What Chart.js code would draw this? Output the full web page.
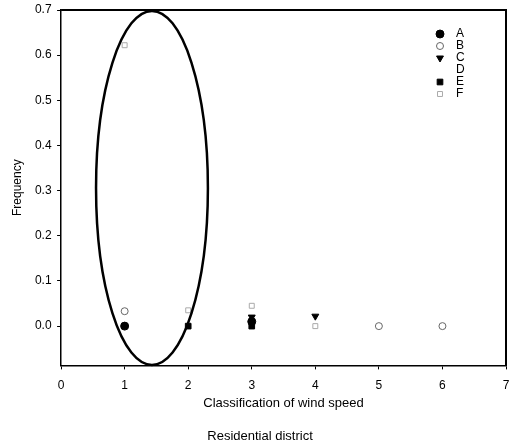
<!DOCTYPE html>
<html>
<head>
<meta charset="utf-8">
<script src="https://cdn.jsdelivr.net/npm/chart.js@4.4.0/dist/chart.umd.min.js"></script>
<style>
  html, body { margin: 0; padding: 0; background: #fff; overflow: hidden; }
  canvas { display: block; }
</style>
</head>
<body>
<canvas id="myChart" width="511" height="446"></canvas>
<script>
// data
var seriesNames = ['A', 'B', 'C', 'D', 'E', 'F'];
var xA = [1, 3];          var yA = [0.0, 0.01];
var xB = [1, 5, 6];       var yB = [0.033, 0.0, 0.0];
var xC = [3, 4];          var yC = [0.02, 0.022];
var xD = [];              var yD = [];
var xE = [2, 3];          var yE = [0.0, 0.0];
var xF = [1, 2, 3, 4];    var yF = [0.622, 0.035, 0.045, 0.0];
var yTickValues = [0, 0.1, 0.2, 0.3, 0.4, 0.5, 0.6, 0.7];
var xTickValues = [0, 1, 2, 3, 4, 5, 6, 7];

// the circled region (data units)
var ringCx = 1.43, ringCy = 0.306, ringRx = 0.88, ringRy = 0.392;

var fontName = '"Liberation Sans", Arial, sans-serif';

function pts(xs, ys) {
  var out = [];
  for (var i = 0; i < xs.length; i++) out.push({x: xs[i], y: ys[i]});
  return out;
}

var markerStyles = {
  A: {pointStyle: 'circle', radius: 4, rotation: 0, bg: '#000', border: '#000', bw: 1},
  B: {pointStyle: 'circle', radius: 3.5, rotation: 0, bg: '#fff', border: '#666', bw: 1},
  C: {pointStyle: 'triangle', radius: 4, rotation: 180, bg: '#000', border: '#000', bw: 1},
  D: {pointStyle: false, radius: 0, rotation: 0, bg: '#fff', border: '#fff', bw: 0},
  E: {pointStyle: 'rect', radius: 4, rotation: 0, bg: '#000', border: '#000', bw: 1},
  F: {pointStyle: 'rect', radius: 3.5, rotation: 0, bg: '#fff', border: '#aaa', bw: 1}
};

var allData = {
  A: pts(xA, yA), B: pts(xB, yB), C: pts(xC, yC),
  D: pts(xD, yD), E: pts(xE, yE), F: pts(xF, yF)
};

var datasets = seriesNames.map(function(name) {
  var m = markerStyles[name];
  return {
    label: name,
    data: allData[name],
    pointStyle: m.pointStyle,
    pointRadius: m.radius,
    pointRotation: m.rotation,
    pointBackgroundColor: m.bg,
    pointBorderColor: m.border,
    pointBorderWidth: m.bw,
    showLine: false
  };
});

// box around the plot + the ellipse
var framePlugin = {
  id: 'frame',
  afterDatasetsDraw: function(chart) {
    var ctx = chart.ctx, a = chart.chartArea;
    var xs = chart.scales.x, ys = chart.scales.y;
    var r = xs.getPixelForValue(7);
    ctx.save();
    ctx.strokeStyle = '#000';
    ctx.lineWidth = 2;
    ctx.beginPath();
    ctx.moveTo(a.left, a.top);
    ctx.lineTo(r, a.top);
    ctx.lineTo(r, a.bottom);
    ctx.stroke();

    var cx = xs.getPixelForValue(ringCx);
    var cy = ys.getPixelForValue(ringCy);
    var rx = Math.abs(xs.getPixelForValue(ringCx + ringRx) - cx);
    var ry = Math.abs(ys.getPixelForValue(ringCy + ringRy) - cy);
    ctx.lineWidth = 2.5;
    ctx.beginPath();
    ctx.ellipse(cx, cy, rx, ry, 0, 0, Math.PI * 2);
    ctx.stroke();
    ctx.restore();
  }
};

// legend drawn inside the plot, top right
var innerLegend = {
  id: 'innerLegend',
  afterDraw: function(chart) {
    var ctx = chart.ctx, a = chart.chartArea;
    var mx = a.right - 66, tx = a.right - 50, y0 = a.top + 24, step = 12;
    ctx.save();
    ctx.font = '12px ' + fontName;
    ctx.textBaseline = 'middle';
    ctx.fillStyle = '#000';
    seriesNames.forEach(function(name, i) {
      var m = markerStyles[name];
      var y = y0 + i * step;
      if (m.pointStyle) {
        ctx.fillStyle = m.bg;
        ctx.strokeStyle = m.border;
        ctx.lineWidth = m.bw;
        Chart.helpers.drawPoint(ctx, {pointStyle: m.pointStyle, radius: m.radius, rotation: m.rotation, borderWidth: m.bw}, mx, y);
      }
      ctx.fillStyle = '#000';
      ctx.fillText(name, tx, y);
    });
    ctx.restore();
  }
};

var ctx = document.getElementById('myChart').getContext('2d');
var chart = new Chart(ctx, {
  type: 'scatter',
  data: {datasets: datasets},
  options: {
    responsive: false,
    animation: false,
    layout: {padding: {top: 10, right: 1, left: 10, bottom: 1}},
    plugins: {
      legend: {display: false},
      tooltip: {enabled: false},
      title: {
        display: true,
        position: 'bottom',
        text: 'Residential district',
        color: '#000',
        font: {family: fontName, size: 13, weight: 'normal'},
        padding: {top: 17, bottom: 1}
      }
    },
    scales: {
      x: {
        type: 'linear',
        min: 0,
        max: 7,
        afterBuildTicks: function(scale) {
          scale.ticks = xTickValues.map(function(v) { return {value: v}; });
        },
        afterFit: function(scale) {
          scale.paddingLeft = 0;
          scale.paddingRight = 0;
        },
        ticks: {color: '#000', font: {family: fontName, size: 12}, padding: 9, maxRotation: 0},
        grid: {display: true, drawOnChartArea: false, drawTicks: true, tickLength: 4, color: '#000'},
        border: {display: true, color: '#000', width: 1.5},
        title: {
          display: true,
          text: 'Classification of wind speed',
          color: '#000',
          font: {family: fontName, size: 13},
          padding: {top: -6, bottom: 0}
        }
      },
      y: {
        type: 'linear',
        min: -0.087,
        max: 0.7,
        afterBuildTicks: function(scale) {
          scale.ticks = yTickValues.map(function(v) { return {value: v}; });
        },
        afterFit: function(scale) {
          scale.paddingTop = 0;
          scale.paddingBottom = 0;
        },
        ticks: {
          color: '#000',
          font: {family: fontName, size: 12},
          padding: 5.5,
          callback: function(v) { return Number(v).toFixed(1); }
        },
        grid: {display: true, drawOnChartArea: false, drawTicks: true, tickLength: 4, color: '#000'},
        border: {display: true, color: '#000', width: 1.5},
        title: {
          display: true,
          text: 'Frequency',
          color: '#000',
          font: {family: fontName, size: 12},
          padding: {top: 0, bottom: 5}
        }
      }
    }
  },
  plugins: [framePlugin, innerLegend]
});
</script>
</body>
</html>
